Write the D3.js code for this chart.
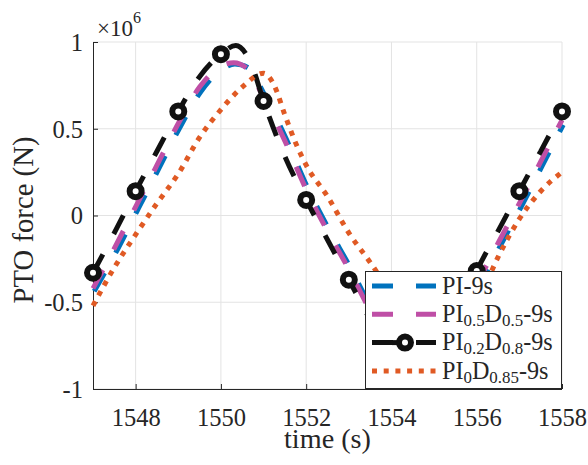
<!DOCTYPE html>
<html>
<head>
<meta charset="utf-8">
<script src="https://cdn.jsdelivr.net/npm/d3@7"></script>
<style>
  html, body { margin: 0; padding: 0; background: #fff; }
  svg { display: block; }
</style>
</head>
<body>
<svg id="chart" width="588" height="465"></svg>
<script>
// ---------- data (force in units of 1e6 N) ----------
const timePI = [1547, 1547.5, 1548, 1548.5, 1549, 1549.5, 1550, 1550.3, 1550.6, 1551, 1551.5, 1552, 1552.5, 1553, 1553.5, 1554, 1554.5, 1555, 1555.5, 1556, 1556.5, 1557, 1557.5, 1558];
const forcePI = [-0.43, -0.21, 0.03, 0.27, 0.51, 0.72, 0.85, 0.88, 0.86, 0.70, 0.45, 0.17, -0.07, -0.29, -0.53, -0.76, -0.90, -0.87, -0.68, -0.42, -0.18, 0.05, 0.29, 0.53];
const forcePI05D05 = [-0.42, -0.19, 0.05, 0.29, 0.53, 0.74, 0.86, 0.88, 0.85, 0.68, 0.43, 0.15, -0.09, -0.31, -0.55, -0.77, -0.90, -0.86, -0.66, -0.40, -0.16, 0.07, 0.31, 0.55];

const timePI02D08 = [1547, 1547.5, 1548, 1548.5, 1549, 1549.5, 1550, 1550.35, 1550.7, 1551, 1551.5, 1552, 1552.5, 1553, 1553.5, 1554, 1554.5, 1555, 1555.5, 1556, 1556.5, 1557, 1557.5, 1558];
const forcePI02D08 = [-0.33, -0.10, 0.14, 0.37, 0.60, 0.80, 0.93, 0.98, 0.88, 0.66, 0.34, 0.09, -0.14, -0.37, -0.60, -0.82, -0.96, -0.92, -0.62, -0.32, -0.09, 0.14, 0.37, 0.60];

const timePI0D085 = [1547, 1547.5, 1548, 1548.5, 1549, 1549.5, 1550, 1550.5, 1551, 1551.25, 1551.5, 1551.75, 1552, 1552.5, 1553, 1553.5, 1554, 1554.5, 1555, 1555.25, 1555.5, 1556, 1556.5, 1557, 1557.5, 1558];
const forcePI0D085 = [-0.52, -0.30, -0.11, 0.07, 0.24, 0.45, 0.61, 0.74, 0.82, 0.75, 0.58, 0.42, 0.29, 0.11, -0.10, -0.27, -0.45, -0.63, -0.78, -0.83, -0.78, -0.52, -0.24, -0.02, 0.14, 0.25];

const xTicks = [1548, 1550, 1552, 1554, 1556, 1558];
const yTicks = [-1, -0.5, 0, 0.5, 1];
const yTickLabels = ["-1", "-0.5", "0", "0.5", "1"];
const xLabel = "time (s)";
const yLabel = "PTO force (N)";

const legendEntries = [
  { key: "PI", parts: [["PI", 0], ["-9s", 0]] },
  { key: "PI05D05", parts: [["PI", 0], ["0.5", 1], ["D", 0], ["0.5", 1], ["-9s", 0]] },
  { key: "PI02D08", parts: [["PI", 0], ["0.2", 1], ["D", 0], ["0.8", 1], ["-9s", 0]] },
  { key: "PI0D085", parts: [["PI", 0], ["0", 1], ["D", 0], ["0.85", 1], ["-9s", 0]] }
];

// ---------- helpers ----------
const FONT = "'Liberation Serif', 'Times New Roman', 'DejaVu Serif', serif";
// size a font so that a sample text takes the wanted width
function fitSize(sample, base, targetWidth) {
  const t = svg.append("text").attr("font-size", base).style("font-family", FONT).text(sample);
  const w = t.node().getComputedTextLength();
  t.remove();
  return w > 0 ? base * targetWidth / w : base;
}

// ---------- layout ----------
const svg = d3.select("#chart");
const pLeft = 93, pRight = 562, pTop = 42, pBottom = 389;
const x = d3.scaleLinear().domain([1547, 1558]).range([pLeft, pRight]);
const y = d3.scaleLinear().domain([-1, 1]).range([pBottom, pTop]);

const axisColor = "#262626";
const gridColor = "#e3e3e3";

const tickFs = fitSize("1548", 24, 49);
const labelFs = fitSize(xLabel, 28, 87);
const yLabelFs = fitSize(yLabel, 28, 167);
const legendFs = fitSize("PI-9s", 24, 51);
const expoFs = fitSize("\u00d710", 24, 36);

// grid
const grid = svg.append("g");
grid.selectAll("line.gx").data(xTicks).enter().append("line")
  .attr("x1", d => x(d)).attr("x2", d => x(d)).attr("y1", pTop).attr("y2", pBottom)
  .attr("stroke", gridColor).attr("stroke-width", 1);
grid.selectAll("line.gy").data(yTicks).enter().append("line")
  .attr("x1", pLeft).attr("x2", pRight).attr("y1", d => y(d)).attr("y2", d => y(d))
  .attr("stroke", gridColor).attr("stroke-width", 1);

// axes
const xAxis = d3.axisBottom(x).tickValues(xTicks).tickSizeInner(-5).tickSizeOuter(0).tickPadding(0).tickFormat(d3.format("d"));
const gx = svg.append("g").attr("transform", `translate(0,${pBottom})`).call(xAxis);
const yAxis = d3.axisLeft(y).tickValues(yTicks).tickSizeInner(-5).tickSizeOuter(0).tickPadding(10)
  .tickFormat((d, i) => yTickLabels[i]);
const gy = svg.append("g").attr("transform", `translate(${pLeft},0)`).call(yAxis);
[gx, gy].forEach(g => {
  g.attr("font-family", null).attr("font-size", tickFs);
  g.select(".domain").attr("stroke", axisColor).attr("stroke-width", 1);
  g.selectAll(".tick line").attr("stroke", axisColor).attr("stroke-width", 1);
  g.selectAll(".tick text").style("font-family", FONT).attr("font-size", tickFs).attr("fill", axisColor);
});
gx.selectAll(".tick text").attr("dy", null).attr("y", 426 - pBottom);
gy.selectAll(".tick text").attr("dy", "0.34em");
gy.select(".domain").attr("d", `M0.5,${pBottom}V${pTop}`);
gx.select(".domain").attr("d", `M${pLeft},0.5H${pRight}`);

// axis labels
svg.append("text").attr("x", (pLeft + pRight) / 2).attr("y", 448).attr("text-anchor", "middle")
  .style("font-family", FONT).attr("fill", axisColor).attr("font-size", labelFs).text(xLabel);
svg.append("text").attr("transform", `translate(33,220) rotate(-90)`)
  .style("font-family", FONT).attr("fill", axisColor)
  .attr("text-anchor", "middle").attr("font-size", yLabelFs).text(yLabel);

// exponent
const expo = svg.append("text").attr("x", 97).attr("y", 36).attr("font-size", expoFs)
  .style("font-family", FONT).attr("fill", axisColor);
expo.append("tspan").text("\u00d710");
expo.append("tspan").attr("font-size", expoFs * 0.7).attr("dy", -13).text("6");

// ---------- series ----------
const colors = { PI: "#0072BD", PI05D05: "#BF4FA6", PI02D08: "#111111", PI0D085: "#E05A24" };
const lineGen = d3.line().x(d => x(d[0])).y(d => y(d[1])).curve(d3.curveMonotoneX);
const zip = (t, v) => t.map((d, i) => [d, v[i]]);

const plot = svg.append("g");
plot.append("path").datum(zip(timePI, forcePI)).attr("d", lineGen)
  .attr("fill", "none").attr("stroke", colors.PI).attr("stroke-width", 5)
  .attr("stroke-dasharray", "21,23").attr("transform", "translate(1.2,1.2)");
plot.append("path").datum(zip(timePI, forcePI05D05)).attr("d", lineGen)
  .attr("fill", "none").attr("stroke", colors.PI05D05).attr("stroke-width", 5)
  .attr("stroke-dasharray", "21,23");
const blackData = zip(timePI02D08, forcePI02D08);
plot.append("path").datum(blackData).attr("d", lineGen)
  .attr("fill", "none").attr("stroke", colors.PI02D08).attr("stroke-width", 5)
  .attr("stroke-dasharray", "21,23");
plot.selectAll("circle.mk").data(blackData.filter(d => Number.isInteger(d[0]))).enter()
  .append("circle").attr("cx", d => x(d[0])).attr("cy", d => y(d[1])).attr("r", 6)
  .attr("fill", "#fff").attr("stroke", colors.PI02D08).attr("stroke-width", 6);
plot.append("path").datum(zip(timePI0D085, forcePI0D085)).attr("d", lineGen)
  .attr("fill", "none").attr("stroke", colors.PI0D085).attr("stroke-width", 5)
  .attr("stroke-dasharray", "5,6.5");

// ---------- legend ----------
const lg = svg.append("g");
lg.append("rect").attr("x", 365.5).attr("y", 271.5).attr("width", 196).attr("height", 117)
  .attr("fill", "#fff").attr("stroke", "#262626").attr("stroke-width", 1);
const rowY = [286, 314.3, 342.6, 371];
legendEntries.forEach((e, i) => {
  const cy = rowY[i];
  const col = colors[e.key];
  if (e.key === "PI0D085") {
    lg.append("line").attr("x1", 372).attr("x2", 436).attr("y1", cy).attr("y2", cy)
      .attr("stroke", col).attr("stroke-width", 5).attr("stroke-dasharray", "5,6.7");
  } else {
    lg.append("line").attr("x1", 372).attr("x2", 436).attr("y1", cy).attr("y2", cy)
      .attr("stroke", col).attr("stroke-width", 5).attr("stroke-dasharray", "21,23");
  }
  if (e.key === "PI02D08") {
    lg.append("line").attr("x1", 392).attr("x2", 400).attr("y1", cy).attr("y2", cy)
      .attr("stroke", col).attr("stroke-width", 5);
    lg.append("circle").attr("cx", 405).attr("cy", cy).attr("r", 6)
      .attr("fill", "#fff").attr("stroke", col).attr("stroke-width", 6);
  }
  const t = lg.append("text").attr("x", 442).attr("y", cy + 7.5).attr("font-size", legendFs)
    .style("font-family", FONT).attr("fill", axisColor);
  let prevSub = 0;
  e.parts.forEach(([s, sub]) => {
    const ts = t.append("tspan").text(s);
    if (sub) { ts.attr("font-size", legendFs * 0.7); }
    const dy = (sub ? 4 : 0) - (prevSub ? 4 : 0);
    if (dy !== 0) ts.attr("dy", dy);
    prevSub = sub;
  });
});
</script>
</body>
</html>
